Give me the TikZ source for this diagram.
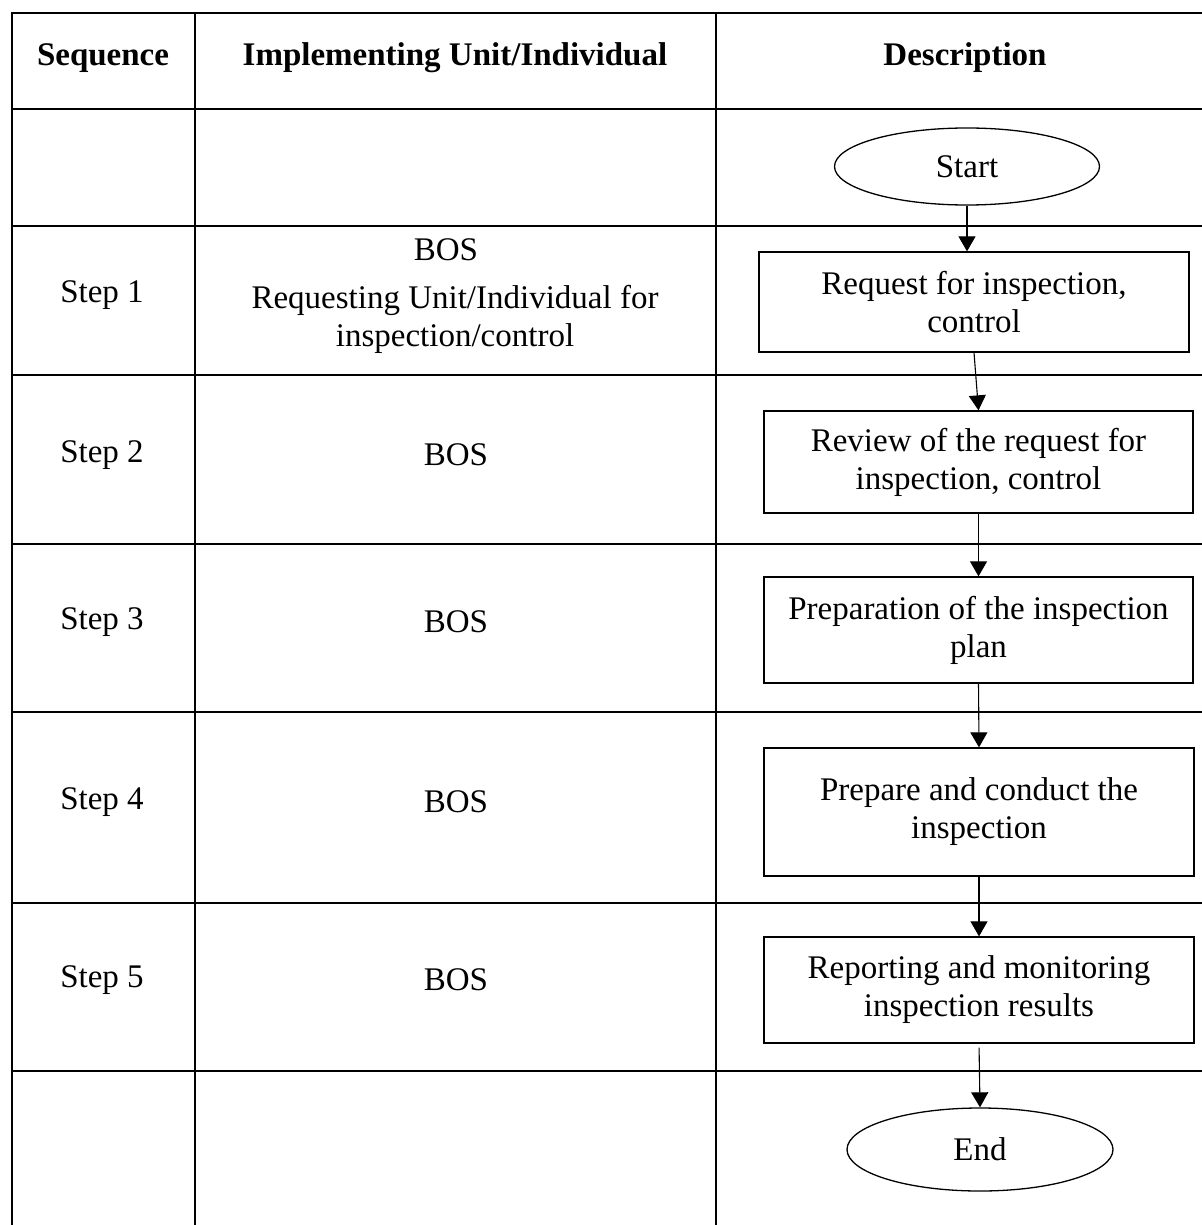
\documentclass[tikz,border=0pt]{standalone}
\usepackage{fontspec}
\setmainfont{Liberation Serif}
\usetikzlibrary{arrows.meta,shapes.geometric}
\begin{document}
\begin{tikzpicture}[x=0.5pt,y=-0.5pt,
  grid/.style={line width=1.3pt,line cap=rect},
  txt/.style={font=\fontsize{16.5}{19}\selectfont,align=center,inner sep=0pt},
  hdr/.style={txt,font=\fontsize{16.5}{19}\selectfont\bfseries},
  procbox/.style={draw,line width=0.65pt,rectangle,minimum width=#1,inner sep=2pt,txt},
  term/.style={draw,line width=0.65pt,ellipse,inner sep=0pt,txt},
  flow/.style={line width=0.55pt,-{Triangle[length=7.5pt,width=8.5pt]}}
]
\useasboundingbox (0,0) rectangle (1202,1225);
% table grid
\draw[grid] (12,13) -- (1202,13);
\draw[grid] (12,109) -- (1202,109);
\draw[grid] (12,226) -- (1202,226);
\draw[grid] (12,375) -- (1202,375);
\draw[grid] (12,544) -- (1202,544);
\draw[grid] (12,712) -- (1202,712);
\draw[grid] (12,903) -- (1202,903);
\draw[grid] (12,1071) -- (1202,1071);
\draw[line width=1.3pt] (12,13) -- (12,1225);
\draw[line width=1.3pt] (195,13) -- (195,1225);
\draw[line width=1.3pt] (716,13) -- (716,1225);
% header
\node[hdr] (h1) at (103,58) {Sequence};
\node[hdr] (h2) at (455,58) {Implementing Unit/Individual};
\node[hdr] (h3) at (965,58) {Description};
% sequence column
\node[txt] (s1) at (102,295) {Step 1};
\node[txt] (s2) at (102,455) {Step 2};
\node[txt] (s3) at (102,622) {Step 3};
\node[txt] (s4) at (102,802) {Step 4};
\node[txt] (s5) at (102,980) {Step 5};
% implementing column
\node[txt] (u1a) at (446,250) {BOS};
\node[txt] (u1b) at (455,319) {Requesting Unit/Individual for\\inspection/control};
\node[txt] (u2) at (456,455) {BOS};
\node[txt] (u3) at (456,622) {BOS};
\node[txt] (u4) at (456,802) {BOS};
\node[txt] (u5) at (456,980) {BOS};
% flowchart
\node[term,minimum width=132.5pt,minimum height=38.5pt] (start) at (967,166.5) {Start};
\node[procbox=215pt,minimum height=50pt] (b1) at (974,302) {Request for inspection,\\control};
\node[procbox=214.5pt,minimum height=51pt] (b2) at (978.5,462) {Review of the request for\\inspection, control};
\node[procbox=214.5pt,minimum height=53pt] (b3) at (978.5,630) {Preparation of the inspection\\plan};
\node[procbox=215pt,minimum height=64pt] (b4) at (979,812) {Prepare and conduct the\\inspection};
\node[procbox=215pt,minimum height=53pt] (b5) at (979,990) {Reporting and monitoring\\inspection results};
\node[term,minimum width=133pt,minimum height=41.5pt] (end) at (980,1149.5) {End};
% connectors
\draw[flow] (start.south) -- (start.south |- b1.north);
\draw[flow] (b1.south) -- (b2.north);
\draw[flow] (b2.south) -- (b3.north);
\draw[flow] (b3.south) -- (b4.north);
\draw[flow] (b4.south) -- (b5.north);
\draw[flow,shorten <=2pt] (b5.south) -- (end.north);
\end{tikzpicture}
\end{document}
